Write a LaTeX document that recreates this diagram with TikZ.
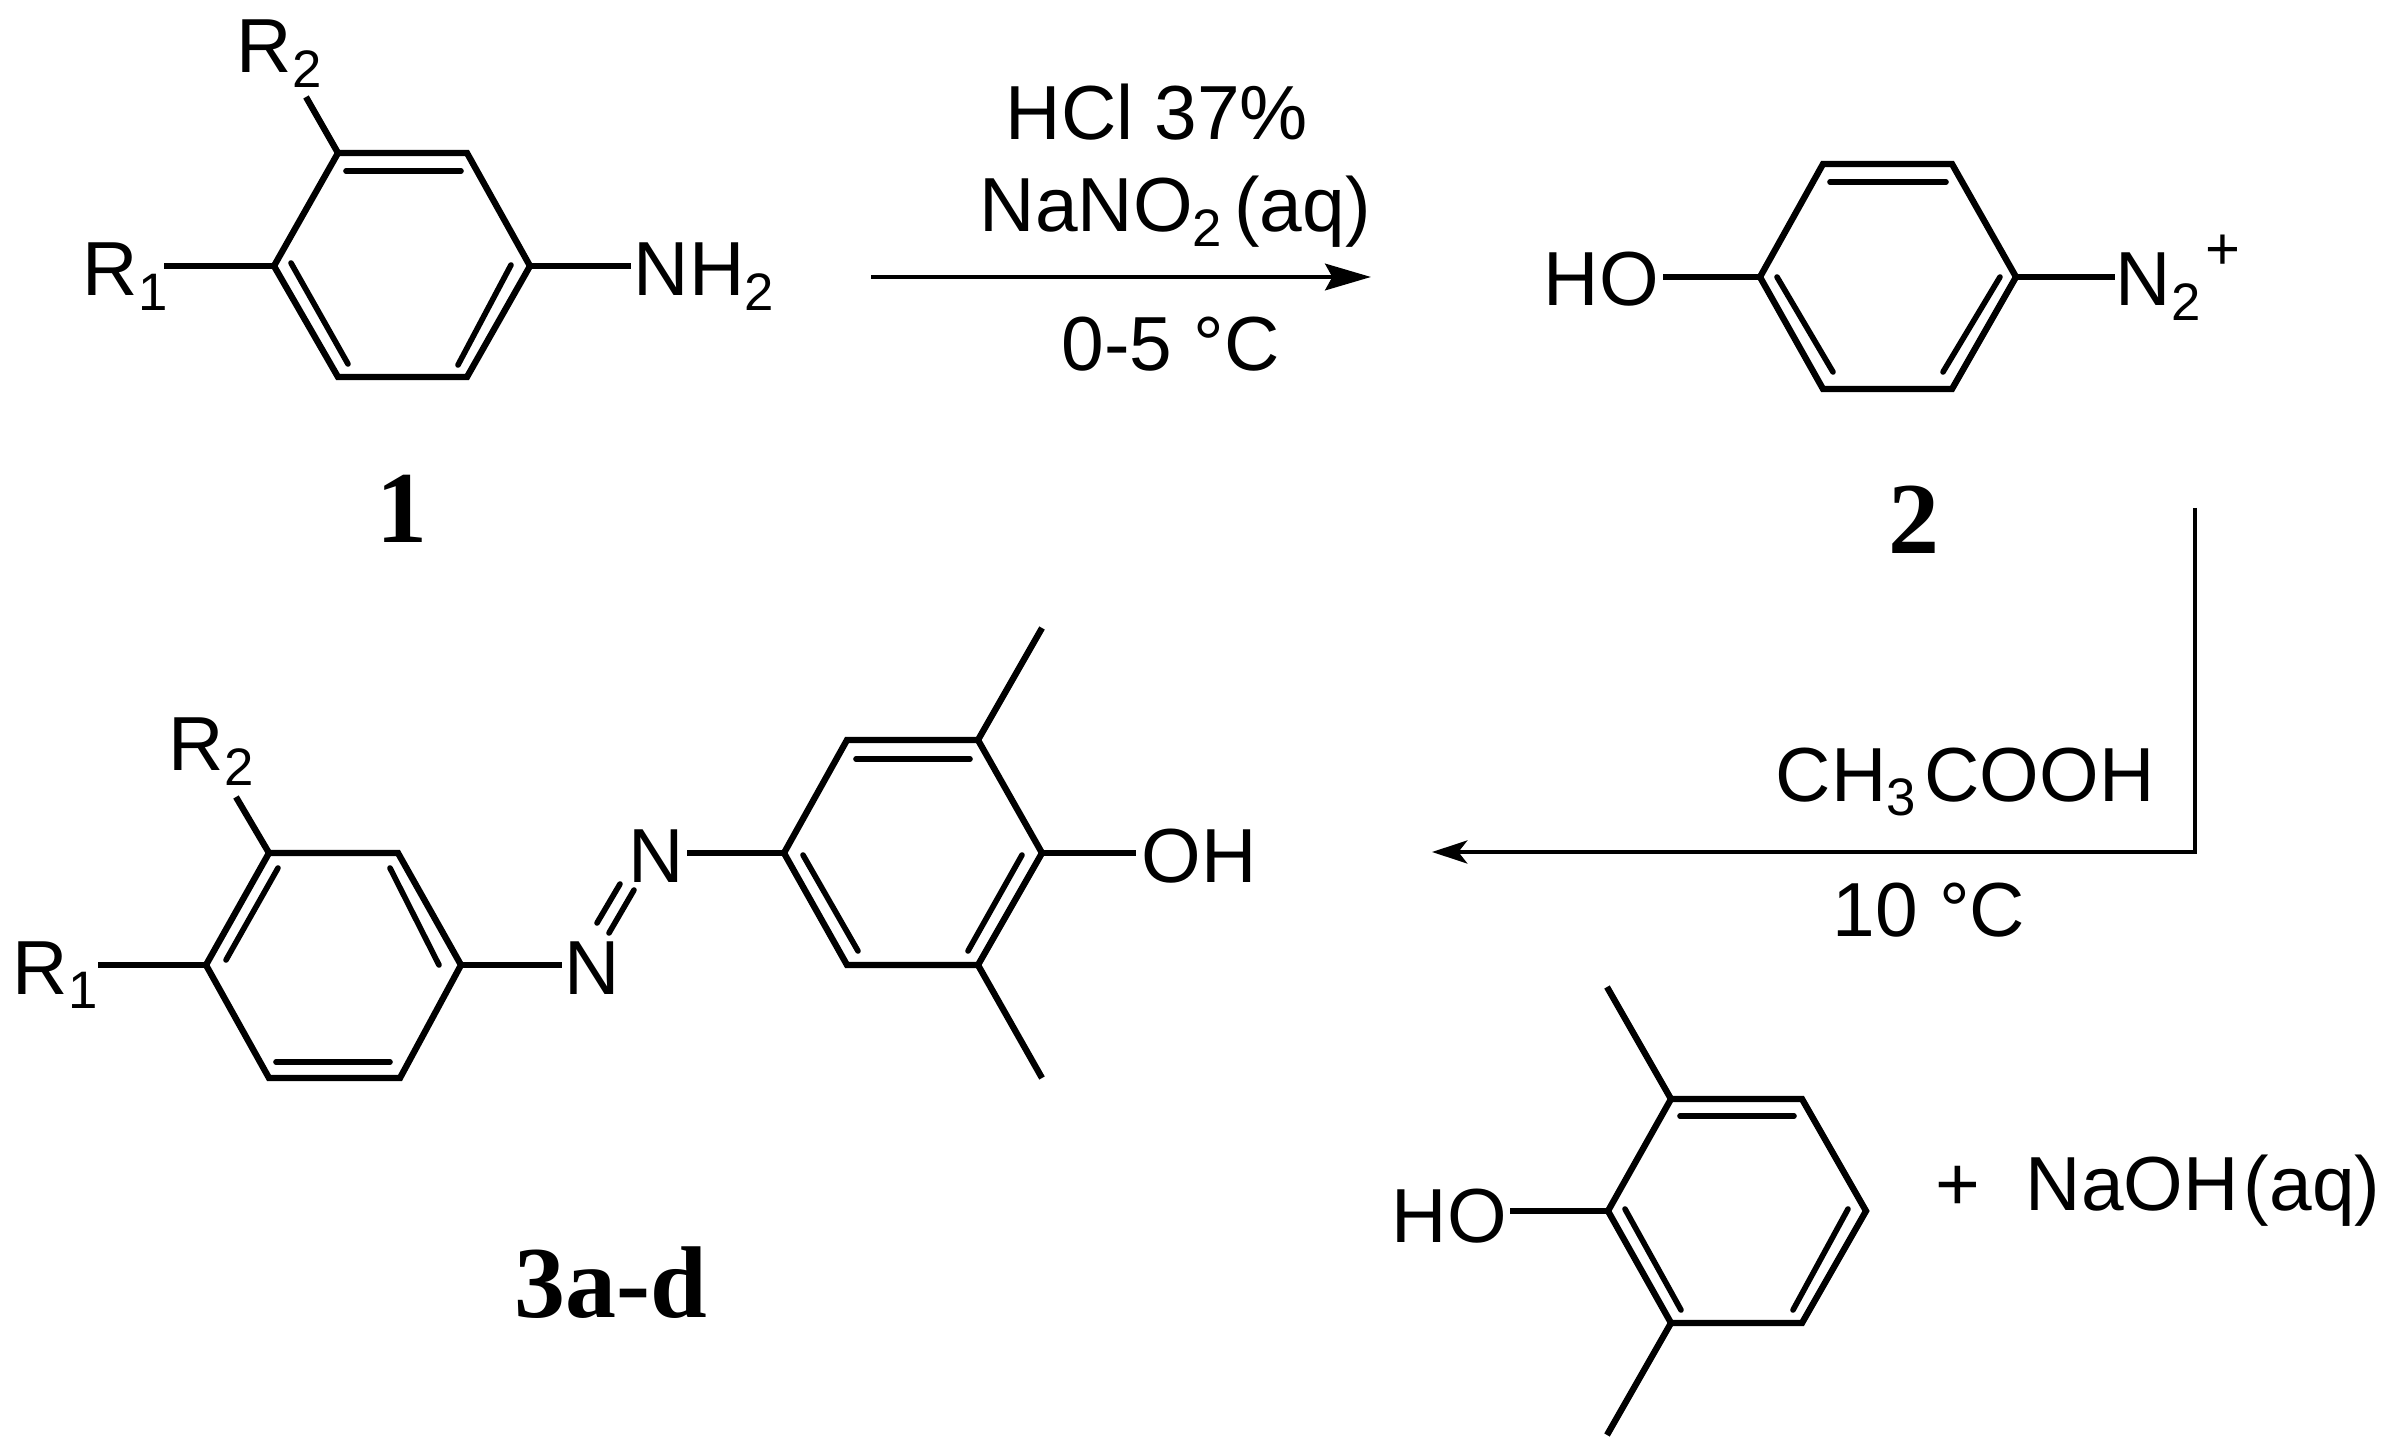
\documentclass[tikz,border=0pt]{standalone}
\usepackage{fontspec}
\setmainfont{Liberation Sans}
\newfontfamily\numberfont{Liberation Serif}
\usetikzlibrary{arrows.meta}
\newcommand{\lowidx}[1]{\raisebox{-4pt}{\fontsize{15}{15}\selectfont #1}}
\tikzset{
	bond/.style={line width=1.8pt,miter limit=10},
	innerbond/.style={line width=1.6pt,line cap=round},
	atomtext/.style={inner sep=0pt,anchor=base west,font=\fontsize{21.8}{26}\selectfont},
	compound/.style={inner sep=0pt,anchor=base,font=\numberfont\bfseries\fontsize{29}{32}\selectfont}
}
\begin{document}
\begin{tikzpicture}[x=0.01cm,y=-0.01cm]
	\useasboundingbox (0,0) rectangle (2390,1452);
	% Aniline
	\foreach \n/\x/\y in {a1/338/153,a2/467/153,a3/530/266,a4/467/377,a5/338/377,a6/274/266,
		a7/346/171,a8/461/171,a9/291/263,a10/348/364,a11/511/265,a12/458/365,
		a13/306/97,a14/164/266,a15/631/266}
		\coordinate (\n) at (\x,\y);
	\draw[bond] (a1) -- (a2) -- (a3) -- (a4) -- (a5) -- (a6) -- cycle;
	\draw[innerbond] (a7) -- (a8);
	\draw[innerbond] (a9) -- (a10);
	\draw[innerbond] (a11) -- (a12);
	\draw[bond] (a1) -- (a13);
	\draw[bond] (a6) -- (a14);
	\draw[bond] (a3) -- (a15);
	\node[atomtext] (r2a) at (236,73) {R\lowidx{2}};
	\node[atomtext] (r1a) at (82,296) {R\lowidx{1}};
	\node[atomtext] (nh2) at (633,296) {NH\lowidx{2}};
	\node[compound] (one) at (402,543) {1};
	% Diazonium
	\foreach \n/\x/\y in {b1/1823/164,b2/1952/164,b3/2016/277,b4/1952/389,b5/1823/389,b6/1760/277,
		b7/1830/182,b8/1946/182,b9/1777/277,b10/1833/372,b11/2000/277,b12/1943/372,
		b13/1663/277,b14/2115/277}
		\coordinate (\n) at (\x,\y);
	\draw[bond] (b1) -- (b2) -- (b3) -- (b4) -- (b5) -- (b6) -- cycle;
	\draw[innerbond] (b7) -- (b8);
	\draw[innerbond] (b9) -- (b10);
	\draw[innerbond] (b11) -- (b12);
	\draw[bond] (b6) -- (b13);
	\draw[bond] (b3) -- (b14);
	\node[atomtext] (hob) at (1543,306) {HO};
	\node[atomtext] (n2) at (2115,306) {N\lowidx{2}};
	\node[atomtext,font=\fontsize{17}{17}\selectfont,anchor=center] (plus) at (2223,252) {+};
	\node[compound] (two) at (1914,554) {2};
	% Azo product
	\foreach \n/\x/\y in {c1/269/853,c2/398/853,c3/461/965,c4/400/1078,c5/269/1078,c6/206/965,
		c7/278/868,c8/226/960,c9/390/868,c10/439/965,c11/276/1062,c12/390/1062,
		c13/236/797,c14/98/965,c15/562/965,
		c16/634/890,c17/609/933,c18/620/884,c19/597/923,c20/687/853,
		d1/784/853,d2/847/740,d3/978/740,d4/1042/853,d5/978/965,d6/847/965,
		d7/856/759,d8/970/759,d9/803/855,d10/858/951,d11/1022/855,d12/968/951,
		d13/1042/628,d14/1042/1078,d15/1136/853}
		\coordinate (\n) at (\x,\y);
	\draw[bond] (c1) -- (c2) -- (c3) -- (c4) -- (c5) -- (c6) -- cycle;
	\draw[innerbond] (c7) -- (c8);
	\draw[innerbond] (c9) -- (c10);
	\draw[innerbond] (c11) -- (c12);
	\draw[bond] (c1) -- (c13);
	\draw[bond] (c6) -- (c14);
	\draw[bond] (c3) -- (c15);
	\draw[innerbond] (c16) -- (c17);
	\draw[innerbond] (c18) -- (c19);
	\draw[bond] (c20) -- (d1);
	\draw[bond] (d1) -- (d2) -- (d3) -- (d4) -- (d5) -- (d6) -- cycle;
	\draw[innerbond] (d7) -- (d8);
	\draw[innerbond] (d9) -- (d10);
	\draw[innerbond] (d11) -- (d12);
	\draw[bond] (d3) -- (d13);
	\draw[bond] (d5) -- (d14);
	\draw[bond] (d4) -- (d15);
	\node[atomtext] (r2c) at (168,771) {R\lowidx{2}};
	\node[atomtext] (r1c) at (12,994) {R\lowidx{1}};
	\node[atomtext] (nlow) at (564,994) {N};
	\node[atomtext] (nup) at (628,883) {N};
	\node[atomtext] (ohd) at (1141,882) {OH};
	\node[compound] (three) at (611,1317) {3a-d};
	% Xylenol
	\foreach \n/\x/\y in {e1/1671/1099,e2/1802/1099,e3/1866/1211,e4/1802/1323,e5/1671/1323,e6/1608/1211,
		e7/1680/1116,e8/1794/1116,e9/1625/1209,e10/1681/1310,e11/1848/1209,e12/1793/1310,
		e13/1607/987,e14/1607/1435,e15/1510/1211}
		\coordinate (\n) at (\x,\y);
	\draw[bond] (e1) -- (e2) -- (e3) -- (e4) -- (e5) -- (e6) -- cycle;
	\draw[innerbond] (e7) -- (e8);
	\draw[innerbond] (e9) -- (e10);
	\draw[innerbond] (e11) -- (e12);
	\draw[bond] (e1) -- (e13);
	\draw[bond] (e5) -- (e14);
	\draw[bond] (e6) -- (e15);
	\node[atomtext] (hoe) at (1391,1242) {HO};
	\node[atomtext,anchor=center] (add) at (1958,1188) {+};
	\node[atomtext] (naoh) at (2025,1210) {NaOH\kern1.5pt(aq)};
	% Arrows
	\coordinate (s1) at (871,277);
	\coordinate (t1) at (1371,277);
	\draw[line width=1.4pt,-{Stealth[length=13pt,width=7.5pt,inset=2pt]}] (s1) -- (t1);
	\coordinate (s2) at (2195,508);
	\coordinate (k2) at (2195,852);
	\coordinate (t2) at (1432,852);
	\draw[line width=1.4pt,-{Stealth[length=10pt,width=6.5pt,inset=2.5pt]}] (s2) -- (k2) -- (t2);
	\node[atomtext] (hcl) at (1005,140) {HCl 37\%};
	\node[atomtext] (nano) at (979,232) {NaNO\lowidx{2}\kern3.5pt(aq)};
	\node[atomtext] (temp1) at (1061,371) {0-5 °C};
	\node[atomtext] (acid) at (1775,801) {CH\lowidx{3}\kern2.5pt COOH};
	\node[atomtext] (temp2) at (1832,936) {10 °C};
\end{tikzpicture}
\end{document}
